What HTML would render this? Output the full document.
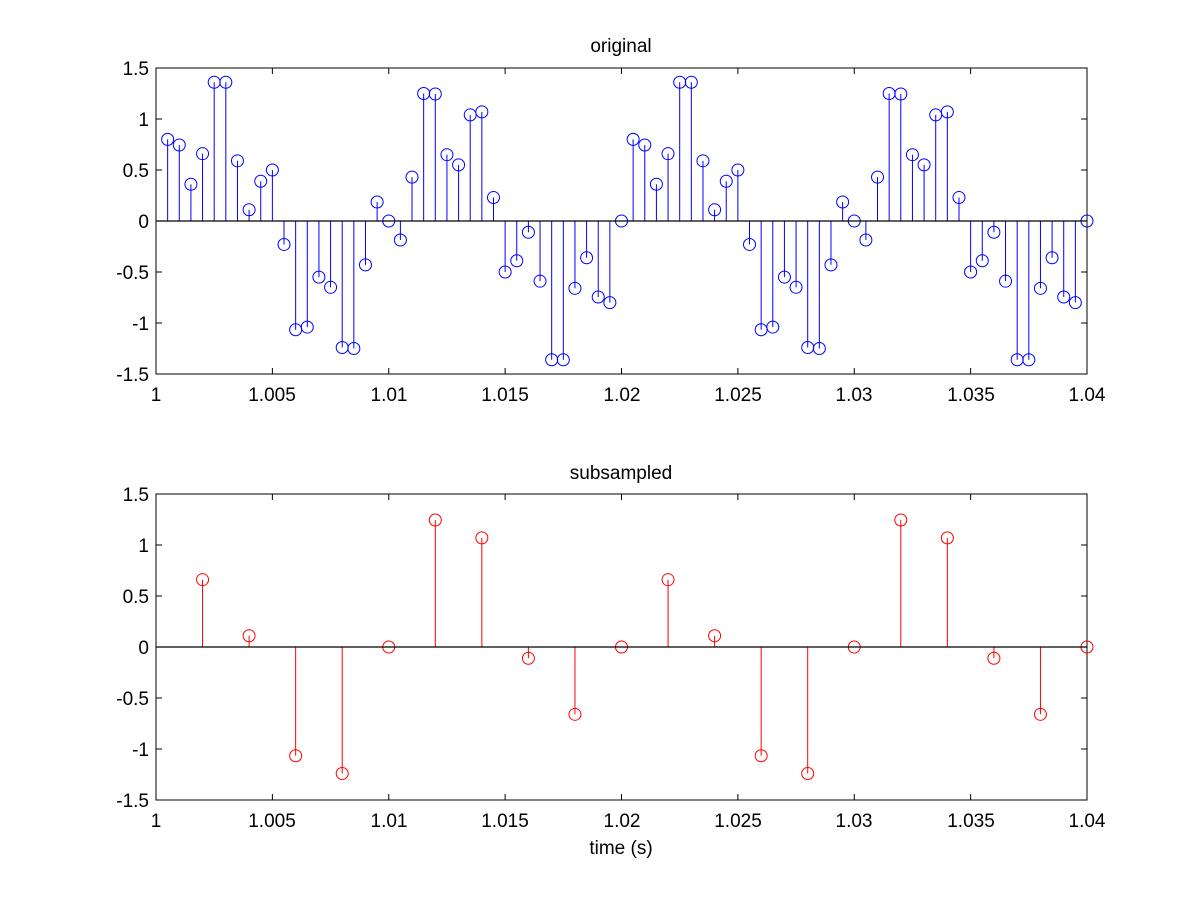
<!DOCTYPE html>
<html><head><meta charset="utf-8"><style>
html,body{margin:0;padding:0;background:#fff;}
svg{display:block;font-family:"Liberation Sans",sans-serif;}
text{font-size:19px;fill:#000;}
</style></head><body>
<svg id="s" width="1200" height="900" viewBox="0 0 1200 900">
<rect width="1200" height="900" fill="#fff"/>
<g id="ax"></g>
<text x="621" y="52" text-anchor="middle">original</text>
<text x="621" y="479" text-anchor="middle">subsampled</text>
<text x="621" y="854" text-anchor="middle">time (s)</text>
<g text-anchor="end">
<text x="149" y="75">1.5</text><text x="149" y="126">1</text><text x="149" y="177">0.5</text><text x="149" y="228">0</text><text x="149" y="279">-0.5</text><text x="149" y="330">-1</text><text x="149" y="381">-1.5</text>
<text x="149" y="501">1.5</text><text x="149" y="552">1</text><text x="149" y="603">0.5</text><text x="149" y="654">0</text><text x="149" y="705">-0.5</text><text x="149" y="756">-1</text><text x="149" y="807">-1.5</text>
</g>
<g text-anchor="middle">
<text x="156" y="401">1</text><text x="272" y="401">1.005</text><text x="389" y="401">1.01</text><text x="505" y="401">1.015</text><text x="622" y="401">1.02</text><text x="738" y="401">1.025</text><text x="854" y="401">1.03</text><text x="971" y="401">1.035</text><text x="1087" y="401">1.04</text>
<text x="156" y="827">1</text><text x="272" y="827">1.005</text><text x="389" y="827">1.01</text><text x="505" y="827">1.015</text><text x="622" y="827">1.02</text><text x="738" y="827">1.025</text><text x="854" y="827">1.03</text><text x="971" y="827">1.035</text><text x="1087" y="827">1.04</text>
</g>
</svg>
<script>
var v=[0.8,0.745,0.36,0.66,1.36,1.36,0.59,0.11,0.39,0.5,-0.23,-1.066,-1.04,-0.55,-0.65,-1.24,-1.25,-0.43,0.186,0,-0.186,0.43,1.25,1.245,0.65,0.55,1.04,1.07,0.23,-0.5,-0.39,-0.11,-0.59,-1.36,-1.36,-0.66,-0.36,-0.745,-0.8,0];
var g=document.getElementById('ax'),h='';
var X0=156,X1=1087,W=X1-X0;
function axes(top){var bot=top+306,z=top+153;
 h+='<rect x="'+X0+'" y="'+top+'" width="'+W+'" height="306" fill="none" stroke="#000" stroke-width="1"/>';
 for(var k=1;k<8;k++){var x=X0+W*k/8;h+='<line x1="'+x+'" y1="'+top+'" x2="'+x+'" y2="'+(top+6)+'" stroke="#000"/><line x1="'+x+'" y1="'+bot+'" x2="'+x+'" y2="'+(bot-6)+'" stroke="#000"/>';}
 for(var k=1;k<6;k++){var y=top+51*k;h+='<line x1="'+X0+'" y1="'+y+'" x2="'+(X0+6)+'" y2="'+y+'" stroke="#000"/><line x1="'+X1+'" y1="'+y+'" x2="'+(X1-6)+'" y2="'+y+'" stroke="#000"/>';}
 return z;}
var z1=axes(68),z2=axes(494);
function stem(z,n,step,col,vals){
 for(var i=1;i<=n;i++){var x=X0+W*i*step/0.04;var val=vals(i);var y=z-val*102;
  h+='<line x1="'+x+'" y1="'+z+'" x2="'+x+'" y2="'+y+'" stroke="'+col+'" stroke-width="1"/>';
  h+='<circle cx="'+x+'" cy="'+y+'" r="6" fill="none" stroke="'+col+'" stroke-width="1"/>';}
 h+='<line x1="'+X0+'" y1="'+z+'" x2="'+X1+'" y2="'+z+'" stroke="#000" stroke-width="1.2"/>';}
stem(z1,80,0.0005,'#0000ff',function(i){return v[(i-1)%40];});
stem(z2,20,0.002,'#ff0000',function(i){return v[(4*i-1)%40];});
g.innerHTML=h;
</script>
</body></html>
